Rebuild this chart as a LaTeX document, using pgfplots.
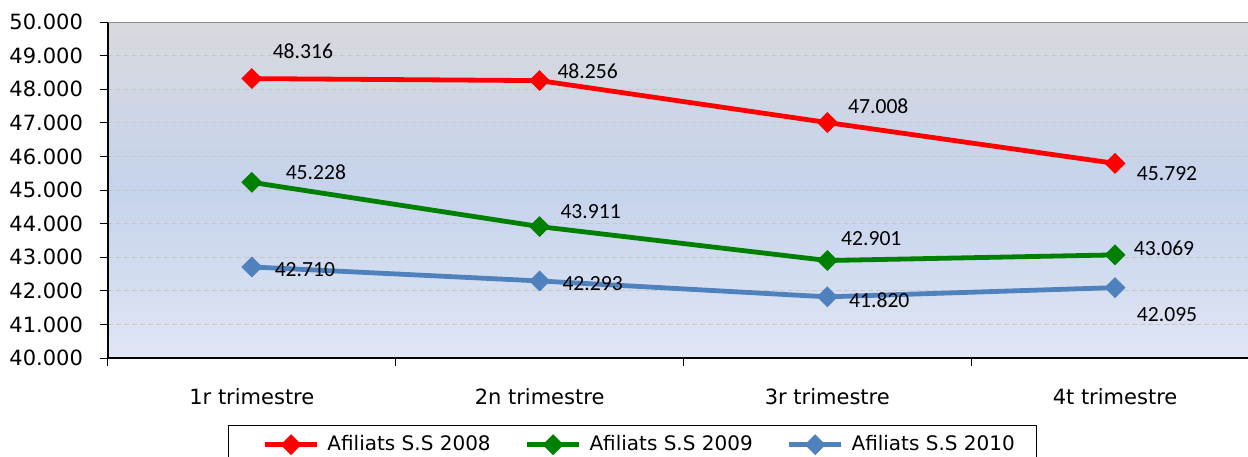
\documentclass[border=0pt]{standalone}
\usepackage{fontspec}
\setmainfont{DejaVu Sans}
\newfontfamily\calibri{Carlito}
\usepackage{pgfplots}
\pgfplotsset{compat=1.18}

\definecolor{s08}{RGB}{255,0,0}
\definecolor{s09}{RGB}{0,128,0}
\definecolor{s10}{RGB}{79,129,189}
\definecolor{bgtop}{RGB}{216,217,222}
\definecolor{bgmid}{RGB}{197,211,236}
\definecolor{bgbot}{RGB}{224,230,244}

\pgfplotsset{
  lbl/.style 2 args={forget plot, draw=none, mark=none, nodes near coords,
    point meta=y,
    every node near coord/.append style={font=\calibri\fontsize{10.8}{12}\selectfont, text=black, anchor=center, xshift=#1, yshift=#2}},
  ser/.style={#1, line width=2.4pt, mark=square*, mark size=2.5pt, mark options={rotate=45, solid}},
}

\begin{document}
\begin{tikzpicture}
\begin{axis}[
  scale only axis, width=570pt, height=168pt,
  xmin=-0.5, xmax=3.462, ymin=40000, ymax=50000,
  axis x line=bottom, axis y line=left,
  axis line style={-, black, line width=0.8pt},
  xtick={-0.5,0.5,1.5,2.5}, xticklabels={},
  extra x ticks={0,1,2,3},
  extra x tick labels={1r trimestre,2n trimestre,3r trimestre,4t trimestre},
  extra x tick style={major tick length=0pt, xticklabel style={yshift=-11.5pt, font=\fontsize{10.5}{12}\selectfont}},
  ytick={40000,41000,...,50000},
  ymajorgrids,
  grid style={dash pattern=on 2.5pt off 1.5pt, color=black!22, line width=0.5pt},
  tick align=outside, major tick length=4pt,
  tick style={black, line width=0.5pt},
  scaled y ticks=false,
  /pgf/number format/1000 sep={.},
  /pgf/number format/assume math mode=true,
  tick label style={font=\fontsize{10.5}{12}\selectfont},
  yticklabel style={xshift=-5pt},
  axis background/.style={top color=bgtop, bottom color=bgbot, middle color=bgmid},
  legend style={at={(axis description cs:0.1053,-0.1994)}, anchor=north west,
    draw=black, line width=0.6pt, font=\fontsize{10}{12}\selectfont,
    /tikz/every even column/.append style={column sep=7pt},
    inner xsep=9pt, inner ysep=3pt},
  legend columns=3,
  legend cell align=left,
  legend image code/.code={\path (-8pt,0pt) (28pt,0pt); \draw[mark repeat=2,mark phase=2,#1] plot coordinates {(0pt,0pt)(13pt,0pt)(26pt,0pt)};},
]
\addplot[ser=s08] coordinates {(0,48316) (1,48256) (2,47008) (3,45792)};
\addlegendentry{Afiliats S.S 2008}
\addplot[ser=s09] coordinates {(0,45228) (1,43911) (2,42901) (3,43069)};
\addlegendentry{Afiliats S.S 2009}
\addplot[ser=s10] coordinates {(0,42710) (1,42293) (2,41820) (3,42095)};
\addlegendentry{Afiliats S.S 2010}
% data labels
\addplot[lbl={25.5pt}{13.7pt}] coordinates {(0,48316)};
\addplot[lbl={24pt}{4.8pt}] coordinates {(1,48256)};
\addplot[lbl={25.5pt}{8pt}] coordinates {(2,47008)};
\addplot[lbl={26pt}{-5.3pt}] coordinates {(3,45792)};
\addplot[lbl={32pt}{5pt}] coordinates {(0,45228)};
\addplot[lbl={25.5pt}{7.5pt}] coordinates {(1,43911)};
\addplot[lbl={22pt}{11pt}] coordinates {(2,42901)};
\addplot[lbl={24.5pt}{3.3pt}] coordinates {(3,43069)};
\addplot[lbl={26.5pt}{-1.5pt}] coordinates {(0,42710)};
\addplot[lbl={26.5pt}{-1.5pt}] coordinates {(1,42293)};
\addplot[lbl={26pt}{-1.5pt}] coordinates {(2,41820)};
\addplot[lbl={26pt}{-13.6pt}] coordinates {(3,42095)};
\draw[black!45, line width=0.6pt] (rel axis cs:0,1) -- (rel axis cs:1,1);
\coordinate (bl) at (rel axis cs:0,0);
\coordinate (tr) at (rel axis cs:1,1);
\end{axis}
\pgfresetboundingbox
\path[use as bounding box] ([xshift=-54pt,yshift=-49pt]bl) rectangle ([yshift=11pt]tr);
\end{tikzpicture}
\end{document}
